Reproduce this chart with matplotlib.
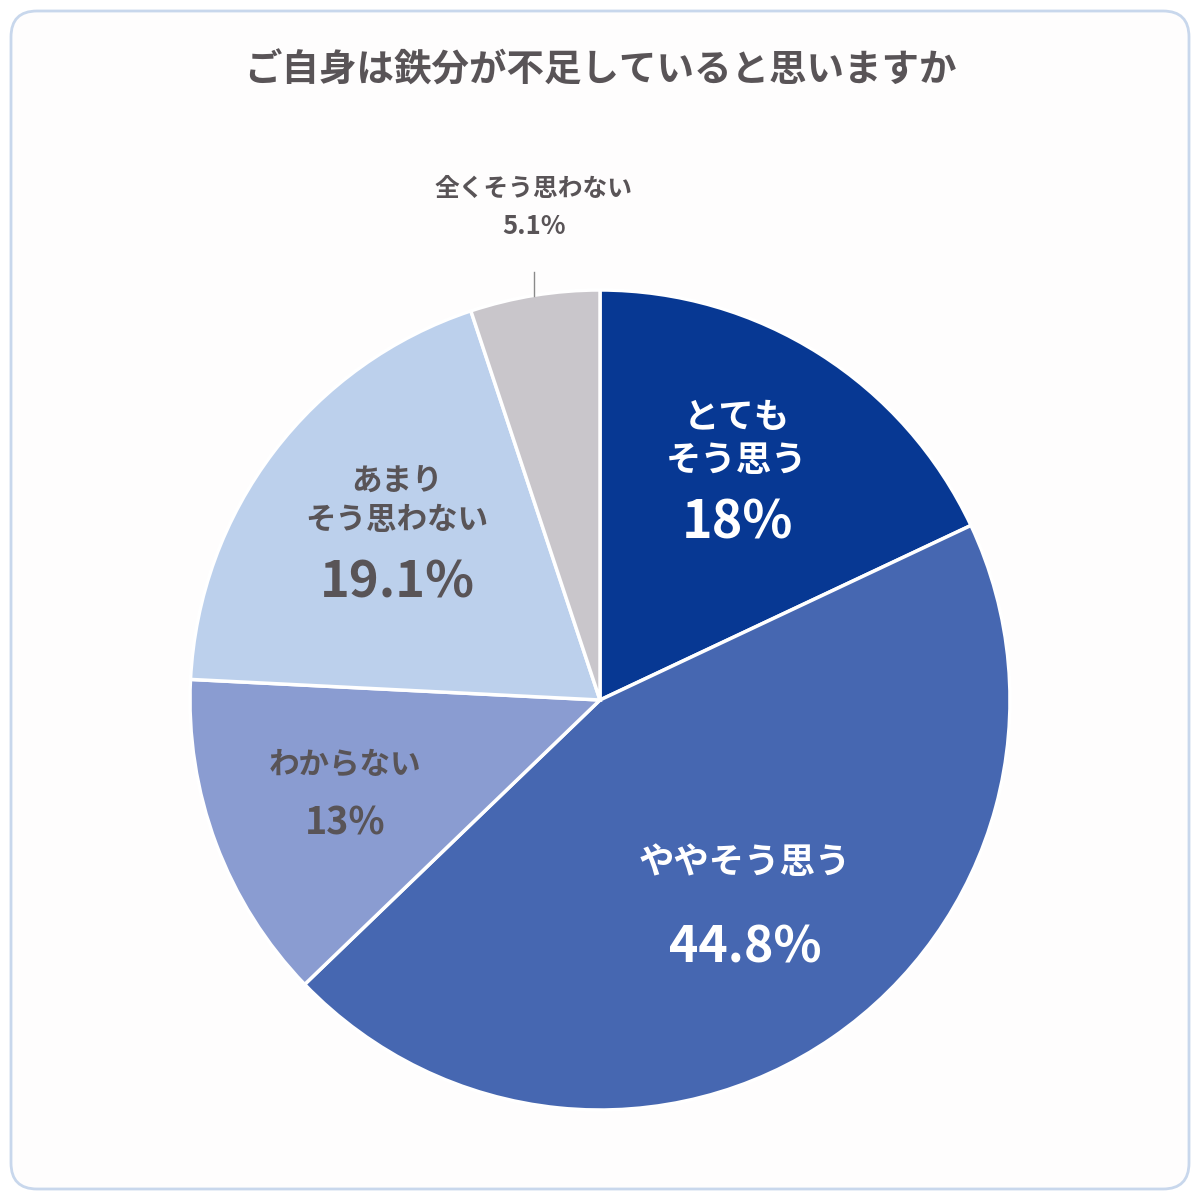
import matplotlib
matplotlib.use("Agg")
import matplotlib.pyplot as plt
from matplotlib.patches import FancyBboxPatch

plt.rcParams['font.family'] = ['Noto Sans CJK JP', 'DejaVu Sans']

title = "ご自身は鉄分が不足していると思いますか"
categories = ["とても\nそう思う", "ややそう思う", "わからない", "あまり\nそう思わない", "全くそう思わない"]
values = [18.0, 44.8, 13.0, 19.1, 5.1]
pct_labels = ["18%", "44.8%", "13%", "19.1%", "5.1%"]
colors = ["#073893", "#4667b1", "#8a9cd1", "#bcd0ec", "#c9c6cb"]

W = H = 1200
fig = plt.figure(figsize=(12, 12), dpi=100)
fig.patch.set_facecolor("white")
ax = fig.add_axes([0, 0, 1, 1])

def Y(y):
    return H - y

cx, cy, r = 600, 700, 410
ax.pie(values, colors=colors, startangle=90, counterclock=False,
       center=(cx, Y(cy)), radius=r, frame=True,
       wedgeprops=dict(edgecolor="white", linewidth=2.5))
ax.set_xlim(0, W)
ax.set_ylim(0, H)
ax.set_aspect("equal")
ax.axis("off")

box = FancyBboxPatch((11, 11), W - 22, H - 22, boxstyle="round,pad=0,rounding_size=26",
                     facecolor="#fefdfd", edgecolor="#c8d7ec", linewidth=2, zorder=0)
ax.add_patch(box)

ax.text(600, Y(70), title, ha="center", va="center", fontsize=27,
        fontweight="bold", color="#595457")

dark = "#595457"
# label specs: (name pos, name size, line spacing, pct pos, pct size, color)
specs = [
    ((737, 439), 25.5, 1.3, (737, 523), 37.5, "white"),
    ((745, 862), 25.5, 1.3, (745, 948), 36, "white"),
    ((345, 764), 22, 1.3, (345, 823), 27, dark),
    ((397, 501), 22, 1.27, (397, 583), 36.5, dark),
    ((534, 189), 17.8, 1.3, (534, 226), 18.5, dark),
]
for i, (name, (npos, nsz, ls, ppos, psz, col)) in enumerate(zip(categories, specs)):
    ax.text(npos[0], Y(npos[1]), name, ha="center", va="center", fontsize=nsz,
            fontweight="bold", color=col, linespacing=ls)
    ax.text(ppos[0], Y(ppos[1]), pct_labels[i], ha="center", va="center",
            fontsize=psz, fontweight="bold", color=col)

ax.plot([534, 534], [Y(272), Y(296)], color="#8a8a8a", linewidth=1)

fig.savefig("out.png", dpi=100, facecolor="white")
